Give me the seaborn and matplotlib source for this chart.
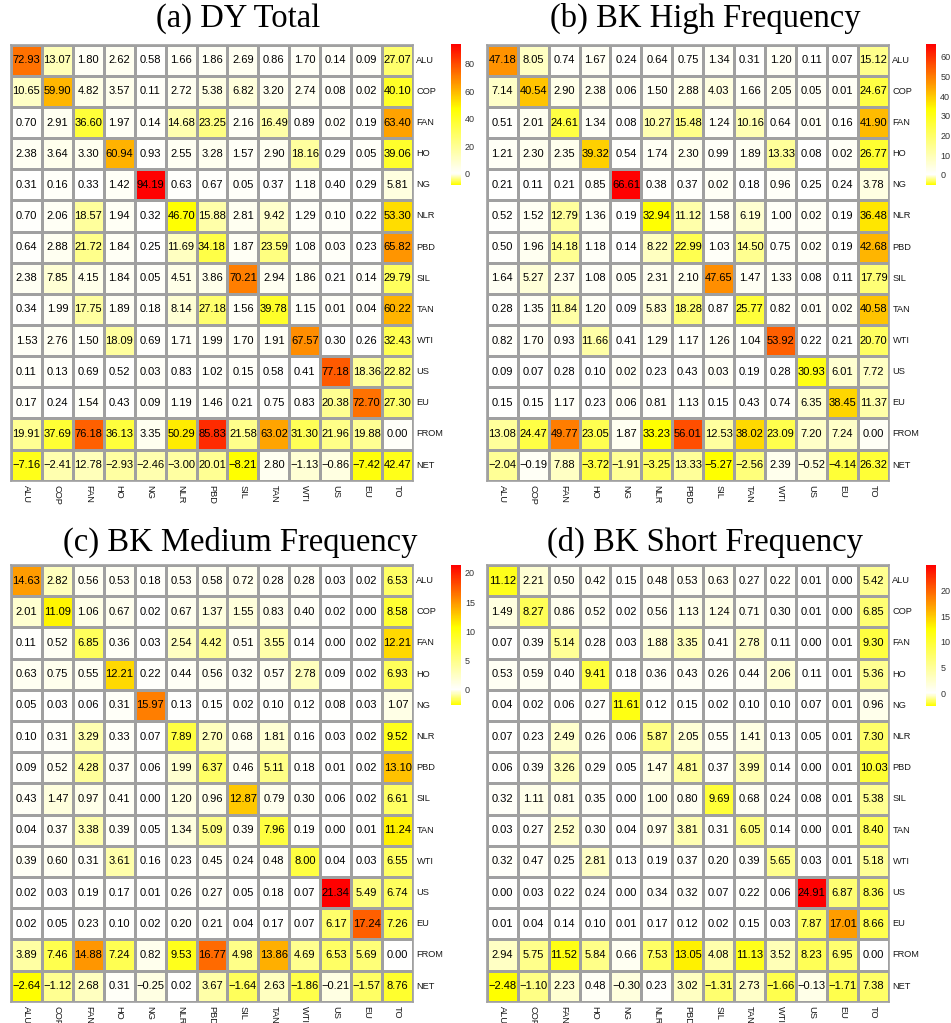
import numpy as np
import pandas as pd
import matplotlib
matplotlib.use("Agg")
import matplotlib.pyplot as plt
import seaborn as sns
from matplotlib.colors import LinearSegmentedColormap

plt.rcParams['font.family'] = ['Liberation Sans', 'DejaVu Sans']

row_labels = ["ALU", "COP", "FAN", "HO", "NG", "NLR", "PBD", "SIL", "TAN", "WTI",
              "US", "EU", "FROM", "NET"]
col_labels = ["ALU", "COP", "FAN", "HO", "NG", "NLR", "PBD", "SIL", "TAN", "WTI",
              "US", "EU", "TO"]

titles = ["(a) DY Total", "(b) BK High Frequency",
          "(c) BK Medium Frequency", "(d) BK Short Frequency"]

dy_total = [
    [72.93, 13.07, 1.80, 2.62, 0.58, 1.66, 1.86, 2.69, 0.86, 1.70, 0.14, 0.09, 27.07],
    [10.65, 59.90, 4.82, 3.57, 0.11, 2.72, 5.38, 6.82, 3.20, 2.74, 0.08, 0.02, 40.10],
    [0.70, 2.91, 36.60, 1.97, 0.14, 14.68, 23.25, 2.16, 16.49, 0.89, 0.02, 0.19, 63.40],
    [2.38, 3.64, 3.30, 60.94, 0.93, 2.55, 3.28, 1.57, 2.90, 18.16, 0.29, 0.05, 39.06],
    [0.31, 0.16, 0.33, 1.42, 94.19, 0.63, 0.67, 0.05, 0.37, 1.18, 0.40, 0.29, 5.81],
    [0.70, 2.06, 18.57, 1.94, 0.32, 46.70, 15.88, 2.81, 9.42, 1.29, 0.10, 0.22, 53.30],
    [0.64, 2.88, 21.72, 1.84, 0.25, 11.69, 34.18, 1.87, 23.59, 1.08, 0.03, 0.23, 65.82],
    [2.38, 7.85, 4.15, 1.84, 0.05, 4.51, 3.86, 70.21, 2.94, 1.86, 0.21, 0.14, 29.79],
    [0.34, 1.99, 17.75, 1.89, 0.18, 8.14, 27.18, 1.56, 39.78, 1.15, 0.01, 0.04, 60.22],
    [1.53, 2.76, 1.50, 18.09, 0.69, 1.71, 1.99, 1.70, 1.91, 67.57, 0.30, 0.26, 32.43],
    [0.11, 0.13, 0.69, 0.52, 0.03, 0.83, 1.02, 0.15, 0.58, 0.41, 77.18, 18.36, 22.82],
    [0.17, 0.24, 1.54, 0.43, 0.09, 1.19, 1.46, 0.21, 0.75, 0.83, 20.38, 72.70, 27.30],
    [19.91, 37.69, 76.18, 36.13, 3.35, 50.29, 85.83, 21.58, 63.02, 31.30, 21.96, 19.88, 0.00],
    [-7.16, -2.41, 12.78, -2.93, -2.46, -3.00, 20.01, -8.21, 2.80, -1.13, -0.86, -7.42, 42.47],
]

bk_high = [
    [47.18, 8.05, 0.74, 1.67, 0.24, 0.64, 0.75, 1.34, 0.31, 1.20, 0.11, 0.07, 15.12],
    [7.14, 40.54, 2.90, 2.38, 0.06, 1.50, 2.88, 4.03, 1.66, 2.05, 0.05, 0.01, 24.67],
    [0.51, 2.01, 24.61, 1.34, 0.08, 10.27, 15.48, 1.24, 10.16, 0.64, 0.01, 0.16, 41.90],
    [1.21, 2.30, 2.35, 39.32, 0.54, 1.74, 2.30, 0.99, 1.89, 13.33, 0.08, 0.02, 26.77],
    [0.21, 0.11, 0.21, 0.85, 66.61, 0.38, 0.37, 0.02, 0.18, 0.96, 0.25, 0.24, 3.78],
    [0.52, 1.52, 12.79, 1.36, 0.19, 32.94, 11.12, 1.58, 6.19, 1.00, 0.02, 0.19, 36.48],
    [0.50, 1.96, 14.18, 1.18, 0.14, 8.22, 22.99, 1.03, 14.50, 0.75, 0.02, 0.19, 42.68],
    [1.64, 5.27, 2.37, 1.08, 0.05, 2.31, 2.10, 47.65, 1.47, 1.33, 0.08, 0.11, 17.79],
    [0.28, 1.35, 11.84, 1.20, 0.09, 5.83, 18.28, 0.87, 25.77, 0.82, 0.01, 0.02, 40.58],
    [0.82, 1.70, 0.93, 11.66, 0.41, 1.29, 1.17, 1.26, 1.04, 53.92, 0.22, 0.21, 20.70],
    [0.09, 0.07, 0.28, 0.10, 0.02, 0.23, 0.43, 0.03, 0.19, 0.28, 30.93, 6.01, 7.72],
    [0.15, 0.15, 1.17, 0.23, 0.06, 0.81, 1.13, 0.15, 0.43, 0.74, 6.35, 38.45, 11.37],
    [13.08, 24.47, 49.77, 23.05, 1.87, 33.23, 56.01, 12.53, 38.02, 23.09, 7.20, 7.24, 0.00],
    [-2.04, -0.19, 7.88, -3.72, -1.91, -3.25, 13.33, -5.27, -2.56, 2.39, -0.52, -4.14, 26.32],
]

bk_medium = [
    [14.63, 2.82, 0.56, 0.53, 0.18, 0.53, 0.58, 0.72, 0.28, 0.28, 0.03, 0.02, 6.53],
    [2.01, 11.09, 1.06, 0.67, 0.02, 0.67, 1.37, 1.55, 0.83, 0.40, 0.02, 0.00, 8.58],
    [0.11, 0.52, 6.85, 0.36, 0.03, 2.54, 4.42, 0.51, 3.55, 0.14, 0.00, 0.02, 12.21],
    [0.63, 0.75, 0.55, 12.21, 0.22, 0.44, 0.56, 0.32, 0.57, 2.78, 0.09, 0.02, 6.93],
    [0.05, 0.03, 0.06, 0.31, 15.97, 0.13, 0.15, 0.02, 0.10, 0.12, 0.08, 0.03, 1.07],
    [0.10, 0.31, 3.29, 0.33, 0.07, 7.89, 2.70, 0.68, 1.81, 0.16, 0.03, 0.02, 9.52],
    [0.09, 0.52, 4.28, 0.37, 0.06, 1.99, 6.37, 0.46, 5.11, 0.18, 0.01, 0.02, 13.10],
    [0.43, 1.47, 0.97, 0.41, 0.00, 1.20, 0.96, 12.87, 0.79, 0.30, 0.06, 0.02, 6.61],
    [0.04, 0.37, 3.38, 0.39, 0.05, 1.34, 5.09, 0.39, 7.96, 0.19, 0.00, 0.01, 11.24],
    [0.39, 0.60, 0.31, 3.61, 0.16, 0.23, 0.45, 0.24, 0.48, 8.00, 0.04, 0.03, 6.55],
    [0.02, 0.03, 0.19, 0.17, 0.01, 0.26, 0.27, 0.05, 0.18, 0.07, 21.34, 5.49, 6.74],
    [0.02, 0.05, 0.23, 0.10, 0.02, 0.20, 0.21, 0.04, 0.17, 0.07, 6.17, 17.24, 7.26],
    [3.89, 7.46, 14.88, 7.24, 0.82, 9.53, 16.77, 4.98, 13.86, 4.69, 6.53, 5.69, 0.00],
    [-2.64, -1.12, 2.68, 0.31, -0.25, 0.02, 3.67, -1.64, 2.63, -1.86, -0.21, -1.57, 8.76],
]

bk_short = [
    [11.12, 2.21, 0.50, 0.42, 0.15, 0.48, 0.53, 0.63, 0.27, 0.22, 0.01, 0.00, 5.42],
    [1.49, 8.27, 0.86, 0.52, 0.02, 0.56, 1.13, 1.24, 0.71, 0.30, 0.01, 0.00, 6.85],
    [0.07, 0.39, 5.14, 0.28, 0.03, 1.88, 3.35, 0.41, 2.78, 0.11, 0.00, 0.01, 9.30],
    [0.53, 0.59, 0.40, 9.41, 0.18, 0.36, 0.43, 0.26, 0.44, 2.06, 0.11, 0.01, 5.36],
    [0.04, 0.02, 0.06, 0.27, 11.61, 0.12, 0.15, 0.02, 0.10, 0.10, 0.07, 0.01, 0.96],
    [0.07, 0.23, 2.49, 0.26, 0.06, 5.87, 2.05, 0.55, 1.41, 0.13, 0.05, 0.01, 7.30],
    [0.06, 0.39, 3.26, 0.29, 0.05, 1.47, 4.81, 0.37, 3.99, 0.14, 0.00, 0.01, 10.03],
    [0.32, 1.11, 0.81, 0.35, 0.00, 1.00, 0.80, 9.69, 0.68, 0.24, 0.08, 0.01, 5.38],
    [0.03, 0.27, 2.52, 0.30, 0.04, 0.97, 3.81, 0.31, 6.05, 0.14, 0.00, 0.01, 8.40],
    [0.32, 0.47, 0.25, 2.81, 0.13, 0.19, 0.37, 0.20, 0.39, 5.65, 0.03, 0.01, 5.18],
    [0.00, 0.03, 0.22, 0.24, 0.00, 0.34, 0.32, 0.07, 0.22, 0.06, 24.91, 6.87, 8.36],
    [0.01, 0.04, 0.14, 0.10, 0.01, 0.17, 0.12, 0.02, 0.15, 0.03, 7.87, 17.01, 8.66],
    [2.94, 5.75, 11.52, 5.84, 0.66, 7.53, 13.05, 4.08, 11.13, 3.52, 8.23, 6.95, 0.00],
    [-2.48, -1.10, 2.23, 0.48, -0.30, 0.23, 3.02, -1.31, 2.73, -1.66, -0.13, -1.71, 7.38],
]

cbar_steps = [20, 10, 5, 5]

W, H = 951, 1023
fig = plt.figure(figsize=(W / 100, H / 100), dpi=100)


def box(l, t, r, b):
    return [l / W, 1 - b / H, (r - l) / W, (b - t) / H]


grid_boxes = [(11, 44.7, 413, 480.7), (486.7, 44.7, 889, 480.7),
              (11, 565, 413, 1001.7), (486.7, 565, 889, 1001.7)]
cbar_boxes = [(450.7, 44, 460.7, 185), (925.7, 44, 936, 185),
              (450.7, 565, 460.7, 705), (925.7, 565, 936, 706)]
title_pos = [(238, 27), (705, 27), (240, 551), (705, 551)]


def make_cmap(vmin, vmax):
    p0 = -vmin / (vmax - vmin)
    span = 1 - p0
    nodes = [(0.0, "#FFFF00"), (p0, "#FFFFFF"), (p0 + 0.5 * span, "#FFFF00"),
             (p0 + 0.67 * span, "#FFA500"), (1.0, "#FF0000")]
    return LinearSegmentedColormap.from_list("dy", nodes)


datasets = [dy_total, bk_high, bk_medium, bk_short]
for i, data in enumerate(datasets):
    df = pd.DataFrame(data, index=row_labels, columns=col_labels)
    vmin, vmax = df.values.min(), df.values.max()
    labels = np.vectorize(lambda v: f"{v:.2f}".replace("-", "\u2212"))(df.values)
    ax = fig.add_axes(box(*grid_boxes[i]))
    cax = fig.add_axes(box(*cbar_boxes[i]))
    sns.heatmap(df, ax=ax, cbar_ax=cax, cmap=make_cmap(vmin, vmax),
                vmin=vmin, vmax=vmax, annot=labels, fmt="",
                annot_kws={"fontsize": 8, "color": "black"},
                linewidths=0.9, linecolor="#A0A0A0")
    for s in ax.spines.values():
        s.set_visible(True)
        s.set_color("#A0A0A0")
        s.set_linewidth(1.2)
    ax.yaxis.tick_right()
    ax.set_yticks(np.arange(len(row_labels)) + 0.5)
    ax.set_yticklabels(row_labels, rotation=0, fontsize=6.7, ha="left", va="center")
    ax.set_xticks(np.arange(len(col_labels)) + 0.5)
    ax.set_xticklabels(col_labels, rotation=270, fontsize=6.7, ha="center", va="top")
    ax.tick_params(axis="both", length=0, colors="#1A1A1A")
    ax.tick_params(axis="y", pad=2.5)
    ax.tick_params(axis="x", pad=3)
    ax.set_xlabel("")
    ax.set_ylabel("")

    cbar = ax.collections[0].colorbar
    cbar.outline.set_visible(False)
    cbar.set_ticks(np.arange(0, vmax, cbar_steps[i]))
    cbar.ax.tick_params(length=0, labelsize=6.5, pad=3, colors="#333333")

    tx, ty = title_pos[i]
    fig.text(tx / W, 1 - ty / H, titles[i], family="Liberation Serif",
             fontsize=23.5, ha="center", va="baseline")

fig.savefig("out.png", dpi=100)
